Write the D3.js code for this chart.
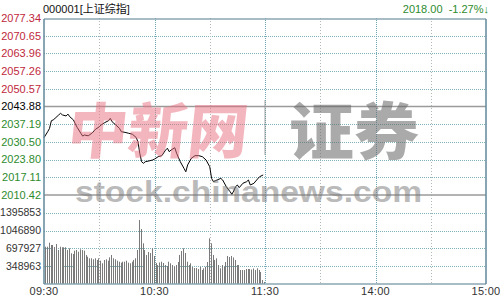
<!DOCTYPE html>
<html>
<head>
<meta charset="utf-8">
<script src="https://cdn.jsdelivr.net/npm/d3@7"></script>
<style>
html,body{margin:0;padding:0;background:#fff;}
svg{display:block;font-family:"Liberation Sans",Arial,"Noto Sans CJK SC",sans-serif;}
</style>
</head>
<body>
<svg id="chart" width="500" height="300"></svg>
<script>
// ---- data ----
const title = "000001[上证综指]";
const lastInfo = "2018.00  -1.27%↓";
const prevClose = 2043.88;
const priceTicks = [2077.34, 2070.65, 2063.96, 2057.26, 2050.57, 2043.88, 2037.19, 2030.50, 2023.80, 2017.11, 2010.42];
const volTicks = [348963, 697927, 1046890, 1395853];
const volMax = 1744816;
const timeTicks = ["09:30", "10:30", "11:30", "14:00", "15:00"];
const gridTimes = ["10:00", "10:30", "11:00", "11:30", "13:30", "14:00", "14:30"];
const hourGrid = ["10:30", "11:30", "14:00"];

const priceTimes = ["09:30","09:32","09:33","09:34","09:35","09:36","09:38","09:39","09:40","09:42","09:43","09:44","09:46","09:47","09:48","09:50","09:51","09:52","09:54","09:56","09:58","10:00","10:01","10:03","10:05","10:06","10:07","10:09","10:11","10:12","10:14","10:16","10:18","10:20","10:21","10:22","10:23","10:24","10:25","10:27","10:29","10:30","10:32","10:34","10:36","10:37","10:38","10:39","10:41","10:42","10:44","10:46","10:47","10:48","10:50","10:52","10:54","10:56","10:58","11:00","11:01","11:02","11:04","11:06","11:07","11:09","11:11","11:12","11:13","11:14","11:15","11:16","11:18","11:20","11:21","11:22","11:24","11:25","11:27","11:29"];
const prices = [2032.1,2034.35,2035.6,2038.5,2038.8,2039.4,2040.7,2041.3,2040.7,2040.3,2041.0,2040.0,2038.8,2037.3,2036.0,2033.75,2032.7,2033.1,2032.8,2033.75,2035.3,2036.2,2036.9,2037.8,2038.5,2039.4,2038.1,2036.9,2035.6,2034.35,2034.1,2033.75,2033.4,2032.2,2030.6,2026.2,2023.0,2022.4,2023.0,2023.3,2023.65,2024.0,2024.9,2025.3,2027.4,2028.1,2026.8,2027.4,2028.3,2026.2,2023.0,2020.5,2019.2,2021.8,2024.3,2025.3,2025.3,2024.9,2023.65,2021.1,2016.7,2015.45,2016.1,2016.7,2016.1,2013.55,2011.7,2010.7,2011.9,2013.55,2014.2,2013.2,2014.85,2015.45,2016.1,2014.2,2014.85,2015.7,2017.3,2018.0];

const volStart = "09:30";
const volumes = [731000,731000,810000,765000,765000,725000,784000,667000,731000,720000,
 720000,720000,667000,700000,602000,588000,653000,667000,633000,680000,
 667000,653000,569000,535000,504000,504000,484000,504000,471000,504000,
 457000,406000,471000,484000,457000,523000,569000,504000,484000,457000,
 437000,418000,437000,437000,457000,418000,406000,437000,471000,504000,
 667000,1255000,1078000,798000,667000,569000,627000,608000,700000,549000,
 412000,372000,422000,437000,412000,372000,353000,437000,406000,372000,
 343000,372000,431000,569000,647000,700000,608000,437000,372000,406000,
 333000,314000,314000,294000,333000,274000,308000,339000,431000,896000,
 798000,569000,471000,504000,372000,308000,372000,339000,431000,549000,
 529000,549000,520000,471000,372000,372000,274000,274000,274000,294000,
 294000,294000,284000,304000,274000,308000,274000,235000,78000,39000];

// ---- scales ----
const parse = d3.timeParse("%H:%M");
const L = 44, R = 486, T = 18, PB = 195, VB = 284;
const x = d3.scaleTime()
  .domain([parse("09:30"), parse("11:30"), parse("13:00"), parse("15:00")])
  .range([L, 265, 265, R]);
const y = d3.scaleLinear().domain([2010.42, 2077.34]).range([PB, T]);
const yv = d3.scaleLinear().domain([0, volMax]).range([VB, PB]);

const svg = d3.select("#chart");
const red = "#c0283c", green = "#2e8b2e";

// ---- grid ----
const g = svg.append("g");
g.selectAll("line.hg").data(priceTicks.filter(v => v !== prevClose && v !== 2010.42 && v !== 2077.34))
  .join("line").attr("x1", L).attr("x2", R)
  .attr("y1", d => Math.round(y(d)) + 0.5).attr("y2", d => Math.round(y(d)) + 0.5)
  .attr("stroke", "#7fb2ba").attr("stroke-dasharray", "1,1");
g.selectAll("line.vg").data(volTicks)
  .join("line").attr("x1", L).attr("x2", R)
  .attr("y1", d => Math.round(yv(d)) + 0.5).attr("y2", d => Math.round(yv(d)) + 0.5)
  .attr("stroke", "#7fb2ba").attr("stroke-dasharray", "1,1");
svg.append("g").selectAll("line").data(gridTimes)
  .join("line")
  .attr("x1", d => Math.round(x(parse(d))) + 0.5).attr("x2", d => Math.round(x(parse(d))) + 0.5)
  .attr("y1", T).attr("y2", VB)
  .attr("stroke", d => hourGrid.includes(d) ? "#6fa8b2" : "#b0b8b8")
  .attr("stroke-dasharray", d => hourGrid.includes(d) ? "1,1" : "1,2");

// prev close & separator
svg.append("line").attr("x1", L).attr("x2", R)
  .attr("y1", y(prevClose)).attr("y2", y(prevClose))
  .attr("stroke", "#9a9a9a").attr("stroke-width", 1.5);
svg.append("line").attr("x1", L).attr("x2", R)
  .attr("y1", PB).attr("y2", PB)
  .attr("stroke", "#9a9a9a").attr("stroke-width", 1.5);

// ---- volume bars ----
const v0 = parse(volStart);
svg.append("g").selectAll("rect").data(volumes)
  .join("rect")
  .attr("x", (d, i) => Math.round(x(d3.timeMinute.offset(v0, i))) + 1)
  .attr("width", 1)
  .attr("y", d => yv(d))
  .attr("height", d => VB - yv(d))
  .attr("fill", "#7a7a7a");

// ---- price line ----
const pts = priceTimes.map((t, i) => [parse(t), prices[i]]);
svg.append("path").datum(pts)
  .attr("fill", "none").attr("stroke", "#000").attr("stroke-width", 1)
  .attr("d", d3.line().x(d => x(d[0])).y(d => y(d[1])));

// ---- frame ----
svg.append("line").attr("x1", L).attr("x2", R).attr("y1", T + 1).attr("y2", T + 1).attr("stroke", "#8aa6b2").attr("stroke-width", 1.5);
svg.append("line").attr("x1", L).attr("x2", R).attr("y1", VB).attr("y2", VB).attr("stroke", "#8aa6b2").attr("stroke-width", 1.5);
svg.append("line").attr("x1", L).attr("x2", L).attr("y1", T + 1).attr("y2", VB).attr("stroke", "#5f8799").attr("stroke-width", 1.5);
svg.append("line").attr("x1", R).attr("x2", R).attr("y1", T + 1).attr("y2", VB).attr("stroke", "#5f8799").attr("stroke-width", 1.5);

// ---- labels ----
svg.append("g").selectAll("text").data(priceTicks)
  .join("text")
  .attr("x", 41).attr("y", d => y(d)).attr("dy", "0.35em")
  .attr("text-anchor", "end").attr("font-size", 11)
  .attr("fill", d => d > prevClose ? red : d < prevClose ? green : "#000")
  .text(d => d.toFixed(2));
svg.append("g").selectAll("text").data(volTicks)
  .join("text")
  .attr("x", 41).attr("y", d => yv(d)).attr("dy", "0.35em")
  .attr("text-anchor", "end").attr("font-size", 10.5).attr("fill", "#333")
  .text(d => d);
svg.append("g").selectAll("text").data(timeTicks)
  .join("text")
  .attr("x", d => x(parse(d))).attr("y", 295)
  .attr("text-anchor", "middle").attr("font-size", 11).attr("fill", "#333")
  .attr("letter-spacing", 0.3)
  .text(d => d);

svg.append("text").attr("x", 43).attr("y", 13).attr("font-size", 11).attr("fill", "#111").text(title);
svg.append("text").attr("x", 489).attr("y", 13).attr("text-anchor", "end").attr("font-size", 11).attr("fill", green)
  .attr("xml:space", "preserve").style("white-space", "pre").text(lastInfo);

// ---- watermark ----
const wm = svg.append("g").attr("pointer-events", "none");
wm.append("text").attr("x", 68).attr("y", 153)
  .attr("font-family", "'Noto Sans CJK SC'").attr("font-weight", 900).attr("font-size", 60)
  .attr("fill", "#e8707f").attr("opacity", 0.5).attr("textLength", 180).attr("lengthAdjust", "spacingAndGlyphs")
  .attr("transform", "skewX(-6) translate(14,0)")
  .text("中新网");
wm.append("line").attr("x1", 265).attr("x2", 265).attr("y1", 100).attr("y2", 155)
  .attr("stroke", "#888").attr("stroke-width", 1.5).attr("opacity", 0.5);
wm.append("text").attr("x", 289).attr("y", 155)
  .attr("font-family", "'Noto Sans CJK SC'").attr("font-weight", 900).attr("font-size", 62)
  .attr("fill", "#666").attr("opacity", 0.55).attr("textLength", 130).attr("lengthAdjust", "spacingAndGlyphs")
  .text("证券");
wm.append("text").attr("x", 75).attr("y", 202)
  .attr("font-family", "'Liberation Sans',Arial").attr("font-weight", 700).attr("font-size", 30)
  .attr("fill", "#777").attr("opacity", 0.5).attr("textLength", 347).attr("lengthAdjust", "spacingAndGlyphs")
  .text("stock.chinanews.com");
</script>
</body>
</html>
